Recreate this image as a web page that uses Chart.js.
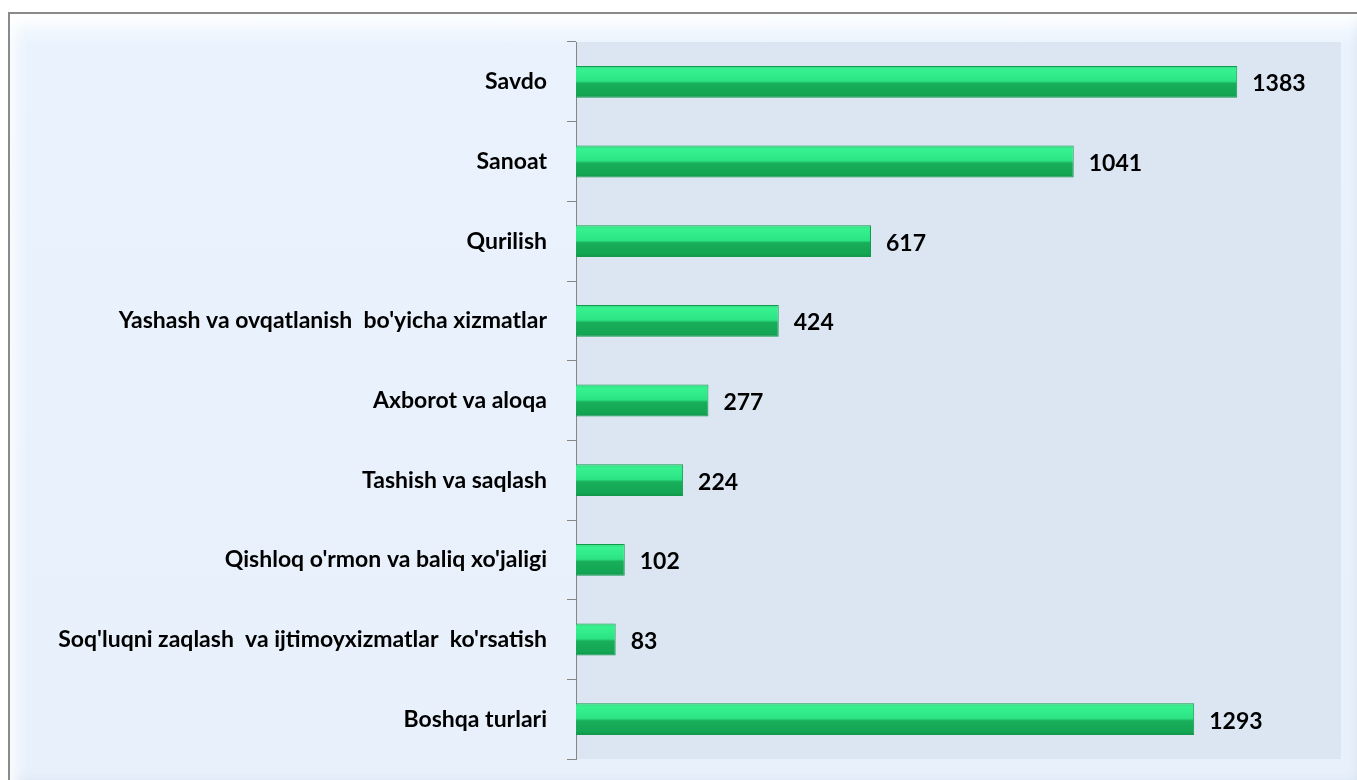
<!DOCTYPE html>
<html lang="en">
<head>
    <meta charset="UTF-8">
    <title>Chart</title>
    <style>
        body {
            margin: 0;
            background: #ffffff;
        }

        .wrap {
            position: relative;
            width: 1357px;
            height: 780px;
            overflow: hidden;
        }

        .frame {
            position: absolute;
            left: 8px;
            top: 12px;
            width: 1360px;
            height: 780px;
            box-sizing: border-box;
            border-top: 2px solid #8a8a8a;
            border-left: 2px solid #8a8a8a;
            background: linear-gradient(180deg, #fbfdff 0px, #eaf3fd 30px, #e8f1fb 100%);
            box-shadow: inset 6px 6px 14px rgba(255,255,255,0.9), inset -8px -8px 14px rgba(190,205,225,0.5);
        }

        .plot {
            position: absolute;
            left: 0;
            top: 0;
        }
    </style>
</head>
<body>
    <div class="wrap">
        <div class="frame"></div>
        <canvas id="mychart" class="plot" width="1357" height="780"></canvas>
    </div>
    <script src="https://cdn.jsdelivr.net/npm/chart.js@4/dist/chart.umd.min.js"></script>
    <script>
        // 분야별 값
        const sectors = [
            "Savdo",
            "Sanoat",
            "Qurilish",
            "Yashash va ovqatlanish  bo'yicha xizmatlar",
            "Axborot va aloqa",
            "Tashish va saqlash",
            "Qishloq o'rmon va baliq xo'jaligi",
            "Soq'luqni zaqlash  va ijtimoyxizmatlar  ko'rsatish",
            "Boshqa turlari"
        ]
        const counts = [1383, 1041, 617, 424, 277, 224, 102, 83, 1293]

        // 플롯 영역 배경
        const plotBg = {
            id: 'plotBg',
            beforeDraw(chart) {
                const a = chart.chartArea
                const ctx = chart.ctx
                ctx.save()
                ctx.fillStyle = '#dce6f2'
                ctx.fillRect(a.left, a.top, a.right - a.left, a.bottom - a.top)
                ctx.restore()
            }
        }

        // 막대 끝 숫자
        const valueLabels = {
            id: 'valueLabels',
            afterDatasetsDraw(chart) {
                const ctx = chart.ctx
                const meta = chart.getDatasetMeta(0)
                ctx.save()
                ctx.font = 'bold 23px Lato'
                ctx.fillStyle = '#000'
                ctx.textBaseline = 'middle'
                ctx.textAlign = 'left'
                meta.data.forEach((bar, i) => {
                    ctx.fillText(counts[i], bar.x + 15, bar.y + 2)
                })
                ctx.restore()
            }
        }

        function barGradient(context) {
            const chart = context.chart
            if (!chart.chartArea) return '#22c46a'
            const y = chart.scales.y.getPixelForValue(context.dataIndex)
            const h = 32
            const g = chart.ctx.createLinearGradient(0, y - h / 2, 0, y + h / 2)
            g.addColorStop(0, '#3cd884')
            g.addColorStop(0.12, '#37f290')
            g.addColorStop(0.48, '#2ce383')
            g.addColorStop(0.55, '#18ae5a')
            g.addColorStop(0.9, '#13a553')
            g.addColorStop(1, '#0f9149')
            return g
        }

        new Chart(document.querySelector('#mychart'), {
            type: 'bar',
            data: {
                labels: sectors,
                datasets: [
                    {
                        label: 'Soni',
                        data: counts,
                        backgroundColor: barGradient,
                        borderColor: '#119a4c',
                        borderWidth: 1,
                        categoryPercentage: 0.4,
                        barPercentage: 1,
                    },
                ],
            },
            options: {
                indexAxis: 'y',
                responsive: false,
                animation: false,
                layout: {
                    padding: { left: 0, top: 42, right: 16, bottom: 21 }
                },
                plugins: {
                    legend: { display: false },
                    tooltip: { enabled: false },
                },
                scales: {
                    x: {
                        display: false,
                        min: 0,
                        max: 1600,
                    },
                    y: {
                        afterFit(scale) {
                            // 라벨 폭과 여백 고정
                            scale.width = 576
                            scale.paddingTop = 0
                            scale.paddingBottom = 0
                        },
                        border: { color: '#868686', width: 1 },
                        grid: {
                            drawOnChartArea: false,
                            color: '#868686',
                            tickLength: 9,
                            offset: true,
                        },
                        ticks: {
                            color: '#000',
                            padding: 20,
                            font: { family: 'Lato', weight: 'bold', size: 23 },
                        },
                    },
                },
            },
            plugins: [plotBg, valueLabels],
        })
    </script>
</body>
</html>
